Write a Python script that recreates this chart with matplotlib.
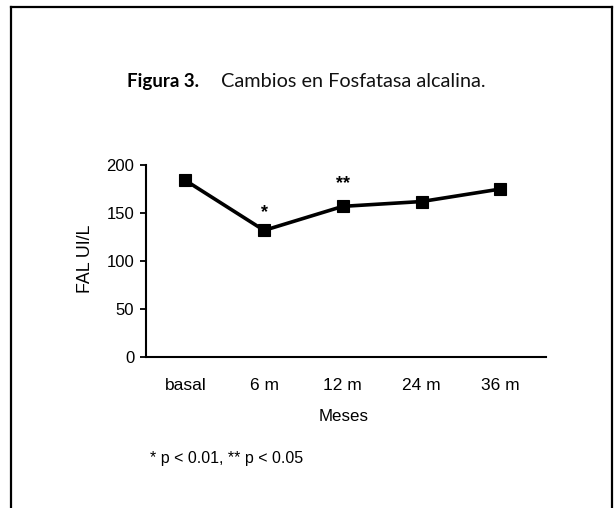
import matplotlib
matplotlib.use("Agg")
import matplotlib.pyplot as plt
from matplotlib.lines import Line2D

categories = ["basal", "6 m", "12 m", "24 m", "36 m"]
fal_values = [184, 132, 157, 162, 175]
significance = ["", "*", "**", "", ""]
y_ticks = [0, 50, 100, 150, 200]

W, H = 614, 508
fig = plt.figure(figsize=(W / 100, H / 100), dpi=100)
fig.patch.set_facecolor("white")

def fx(px):
    return px / W

def fy(py):
    return 1 - py / H

# frame around the figure (open at bottom)
lw_frame = 1.6
fig.add_artist(Line2D([fx(11), fx(11)], [0, fy(7)], transform=fig.transFigure, color="black", lw=lw_frame))
fig.add_artist(Line2D([fx(11), fx(612)], [fy(7), fy(7)], transform=fig.transFigure, color="black", lw=lw_frame))
fig.add_artist(Line2D([fx(612), fx(612)], [0, fy(7)], transform=fig.transFigure, color="black", lw=lw_frame))

# title
fig.text(fx(127), fy(87), "Figura 3.", fontfamily="Lato", fontweight="bold",
         fontsize=13.5, va="baseline", ha="left", color="black")
fig.text(fx(221), fy(87), "Cambios en Fosfatasa alcalina.", fontfamily="Lato",
         fontweight="normal", fontsize=14.3, va="baseline", ha="left", color="#111111")

left, right = 146, 546
top, bottom = 165, 357.3
ax = fig.add_axes([fx(left), fy(bottom), fx(right) - fx(left), fy(top) - fy(bottom)])

x = list(range(len(categories)))
ax.plot(x, fal_values, color="black", lw=2.6, marker="s", markersize=8.2,
        markeredgewidth=0.8, markerfacecolor="black", markeredgecolor="black",
        clip_on=False)

star_offsets = {1: 9.5, 2: 13.5}
for xi, v, s in zip(x, fal_values, significance):
    if s:
        ax.annotate(s, (xi, v), xytext=(0, star_offsets.get(xi, 9)), textcoords="offset points",
                    ha="center", va="baseline", fontsize=13, fontfamily="Liberation Sans",
                    fontweight="bold")

ax.set_xlim(-0.5, 4.58)
ax.set_ylim(0, 200)
ax.set_yticks(y_ticks)
ax.set_yticklabels([str(t) for t in y_ticks], fontfamily="Liberation Sans", fontsize=12)
ax.set_xticks(x)
ax.set_xticklabels(categories, fontfamily="Liberation Sans", fontsize=12.5)
ax.tick_params(axis="x", length=0, pad=15)
ax.tick_params(axis="y", length=4.5, width=1.3, pad=4)
for side in ["top", "right"]:
    ax.spines[side].set_visible(False)
for side in ["left", "bottom"]:
    ax.spines[side].set_linewidth(1.5)

ax.set_xlabel("Meses", fontfamily="Liberation Sans", fontsize=12.2)
ax.xaxis.set_label_coords(0.493, -0.27)

fig.text(fx(85), fy(259), "FAL UI/L", rotation=90, fontfamily="Liberation Sans",
         fontsize=12.8, va="center", ha="center")

fig.text(fx(150), fy(463), "* p < 0.01, ** p < 0.05", fontfamily="Liberation Sans",
         fontsize=11.5, va="baseline", ha="left")

fig.savefig("out.png", dpi=100, facecolor="white")
